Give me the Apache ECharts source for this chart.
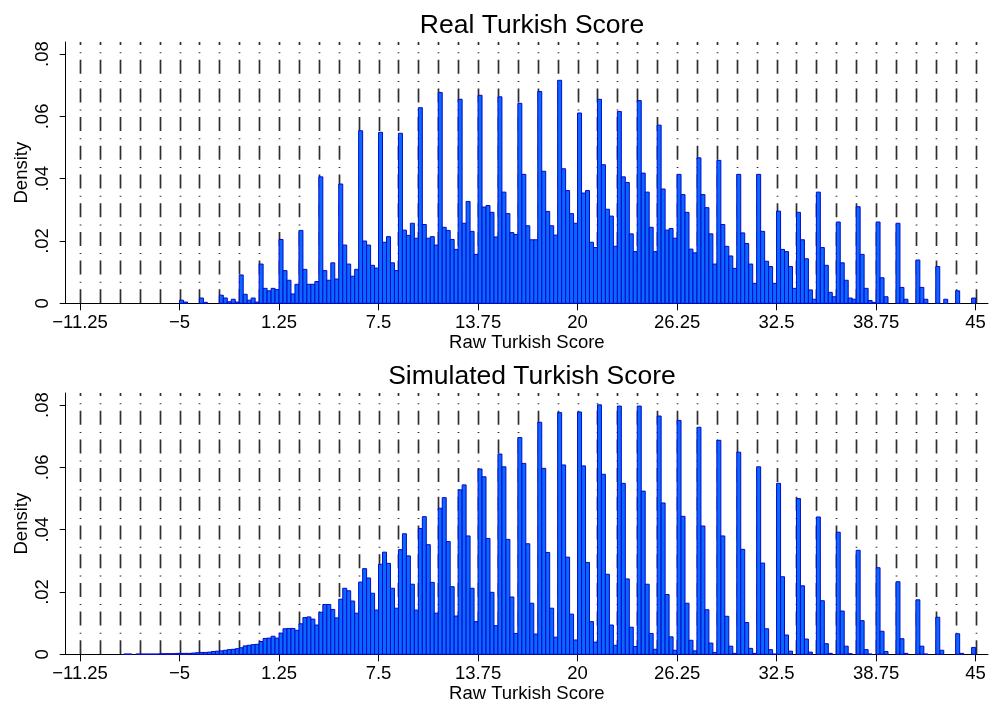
<!DOCTYPE html>
<html>
<head>
<meta charset="utf-8">
<title>Turkish Score</title>
<script src="https://cdn.jsdelivr.net/npm/echarts@6/dist/echarts.min.js"></script>
<style>
  html, body { margin: 0; padding: 0; background: #fff; }
  #chart { width: 992px; height: 710px; }
</style>
</head>
<body>
<div id="chart"></div>
<script>
// density per 0.25-wide bin, first bin starts at realStart / simStart
var binWidth = 0.25
var realStart = -5
var realDensity = [
  0.001, 0.0004, 0, 0, 0,
  0.0017, 0.0003, 0, 0, 0,
  0.0026, 0.0017, 0.0005, 0.0013, 0.0004,
  0.0091, 0.0029, 0.001, 0.0017, 0.0004,
  0.0126, 0.0048, 0.004, 0.0048, 0.0044,
  0.0205, 0.0105, 0.0074, 0.003, 0.0061,
  0.0234, 0.0109, 0.0061, 0.0061, 0.007,
  0.0406, 0.0105, 0.0074, 0.013, 0.0078,
  0.0383, 0.0187, 0.0126, 0.0087, 0.0109,
  0.0554, 0.02, 0.0187, 0.0122, 0.0113,
  0.0549, 0.0196, 0.0214, 0.013, 0.0105,
  0.0546, 0.0235, 0.0218, 0.0257, 0.0209,
  0.0628, 0.0253, 0.0209, 0.0214, 0.0187,
  0.0677, 0.0244, 0.0234, 0.0205, 0.0173,
  0.0655, 0.0257, 0.0327, 0.0231, 0.0157,
  0.0668, 0.0309, 0.0314, 0.0292, 0.0213,
  0.0663, 0.0357, 0.0288, 0.0227, 0.0221,
  0.0642, 0.0414, 0.0249, 0.0204, 0.0204,
  0.068, 0.0424, 0.0295, 0.0249, 0.0219,
  0.0716, 0.0432, 0.0362, 0.0288, 0.0257,
  0.0611, 0.0354, 0.0362, 0.0196, 0.0179,
  0.0655, 0.0445, 0.0302, 0.028, 0.0183,
  0.0616, 0.0406, 0.0388, 0.0223, 0.0166,
  0.0651, 0.0418, 0.0357, 0.0244, 0.0166,
  0.0572, 0.0367, 0.0235, 0.024, 0.0209,
  0.0414, 0.0349, 0.0292, 0.0174, 0.0162,
  0.0467, 0.0349, 0.0307, 0.0223, 0.0126,
  0.0459, 0.0253, 0.0183, 0.0152, 0.0112,
  0.0414, 0.0226, 0.0192, 0.0126, 0.0064,
  0.0414, 0.0231, 0.0135, 0.0118, 0.0064,
  0.0296, 0.0173, 0.0166, 0.0118, 0.0048,
  0.0292, 0.0204, 0.0143, 0.0043, 0.0013,
  0.0357, 0.0179, 0.0122, 0.0035, 0.0021,
  0.0261, 0.013, 0.0074, 0.0017, 0.0013,
  0.031, 0.0157, 0.0048, 0.0009, 0.0003,
  0.0261, 0.0082, 0.0021, 0, 0,
  0.0257, 0.0051, 0.0013, 0, 0,
  0.0139, 0.0051, 0.0013, 0, 0,
  0.0118, 0, 0.0013, 0, 0,
  0.004, 0, 0, 0, 0.0017
]
var simStart = -8.75
var simDensity = [
  0, 0.0001, 0.0001, 0, 0.0001,
  0.0001, 0.0001, 0.0001, 0.0001, 0.0001,
  0.0002, 0.0002, 0.0002, 0.0002, 0.0003,
  0.0003, 0.0003, 0.0003, 0.0004, 0.0005,
  0.0006, 0.0006, 0.0007, 0.0009, 0.001,
  0.0011, 0.0013, 0.0015, 0.0016, 0.0018,
  0.0021, 0.0027, 0.0029, 0.0031, 0.0032,
  0.0041, 0.0051, 0.0052, 0.0058, 0.0052,
  0.0068, 0.0082, 0.0083, 0.0083, 0.0077,
  0.0098, 0.0118, 0.012, 0.0113, 0.0094,
  0.0135, 0.016, 0.016, 0.0144, 0.0117,
  0.0177, 0.0212, 0.0204, 0.0171, 0.0132,
  0.0232, 0.0275, 0.0245, 0.0196, 0.0142,
  0.0289, 0.0328, 0.0292, 0.0212, 0.0148,
  0.0336, 0.0387, 0.0316, 0.0225, 0.0142,
  0.0404, 0.0442, 0.0352, 0.0231, 0.0132,
  0.0469, 0.0503, 0.0362, 0.0217, 0.0123,
  0.0528, 0.0544, 0.038, 0.0212, 0.0105,
  0.0595, 0.057, 0.0372, 0.0199, 0.0092,
  0.0643, 0.0602, 0.0369, 0.0184, 0.0067,
  0.0696, 0.0613, 0.0355, 0.0164, 0.0065,
  0.0745, 0.0597, 0.0327, 0.0148, 0.0055,
  0.0776, 0.0608, 0.0312, 0.0129, 0.0046,
  0.0778, 0.0605, 0.0295, 0.0105, 0.0039,
  0.0801, 0.0578, 0.0257, 0.0094, 0.0029,
  0.0797, 0.0549, 0.0242, 0.0087, 0.0025,
  0.0797, 0.0524, 0.0225, 0.0067, 0.0016,
  0.0765, 0.0486, 0.0192, 0.0056, 0.0013,
  0.0751, 0.0443, 0.0164, 0.0045, 0.0011,
  0.0729, 0.0412, 0.0143, 0.0036, 0.0006,
  0.0687, 0.038, 0.0122, 0.0026, 0.0003,
  0.0649, 0.0337, 0.0102, 0.0019, 0.0003,
  0.0602, 0.0293, 0.0082, 0.0015, 0.0001,
  0.0549, 0.0249, 0.0062, 0.001, 0,
  0.05, 0.022, 0.0049, 0.0007, 0,
  0.0441, 0.0172, 0.0034, 0.0003, 0,
  0.0392, 0.0139, 0.0026, 0.0002, 0,
  0.0334, 0.0108, 0.0015, 0.0001, 0,
  0.0278, 0.0074, 0.0009, 0, 0,
  0.0233, 0.005, 0.0003, 0, 0,
  0.0175, 0.0026, 0.0001, 0, 0,
  0.0119, 0.0013, 0, 0, 0,
  0.0066, 0.0003, 0, 0, 0.0022
]

var xTicks = [-11.25, -5, 1.25, 7.5, 13.75, 20, 26.25, 32.5, 38.75, 45]
var xTickLabels = ['\u221211.25', '\u22125', '1.25', '7.5', '13.75', '20', '26.25', '32.5', '38.75', '45']
var yTicks = [0, 0.02, 0.04, 0.06, 0.08]
var yTickLabels = ['0', '.02', '.04', '.06', '.08']
var titles = ['Real Turkish Score', 'Simulated Turkish Score']

var xMin = -12.15
var xMax = 45.78
var yMax = 0.0839
var font = 'Liberation Sans, Arial, sans-serif'

var xlines = []
for (var v = -11.25; v <= 45.001; v += 1.25) xlines.push([v])

function toBins (start, arr) {
  return arr.map(function (d, i) { return [start + i * binWidth, d] })
}

function renderBar (params, api) {
  var h = api.value(1)
  if (!h) return
  var x0 = api.value(0)
  var p0 = api.coord([x0, h])
  var p1 = api.coord([x0 + binWidth, 0])
  return {
    type: 'rect',
    shape: { x: p0[0], y: p0[1], width: p1[0] - p0[0], height: p1[1] - p0[1] },
    style: { fill: '#0868ff', stroke: '#0808cc', lineWidth: 1 }
  }
}

function renderLine (params, api) {
  var b = api.coord([api.value(0), 0])
  var t = api.coord([api.value(0), yMax])
  var x = Math.round(b[0]) + 0.5
  return {
    type: 'line',
    shape: { x1: x, y1: b[1], x2: x, y2: t[1] },
    style: { stroke: '#2e2e2e', lineWidth: 1.7, lineDash: [14, 6.5, 1, 7.2] },
    z2: 0
  }
}

function xAxisOpt (i) {
  return {
    type: 'value', gridIndex: i, min: xMin, max: xMax,
    name: 'Raw Turkish Score', nameLocation: 'middle', nameGap: 30,
    nameTextStyle: { fontFamily: font, fontSize: 18.5, color: '#000' },
    axisLine: { show: true, onZero: false, lineStyle: { color: '#000', width: 1 } },
    axisTick: { show: true, customValues: xTicks, length: 7, lineStyle: { color: '#000' } },
    axisLabel: {
      customValues: xTicks, margin: 10, fontFamily: font, fontSize: 18.5, color: '#000',
      formatter: function (val) { return xTickLabels[xTicks.indexOf(val)] }
    },
    splitLine: { show: false }
  }
}

function yAxisOpt (i) {
  return {
    type: 'value', gridIndex: i, min: 0, max: yMax,
    name: 'Density', nameLocation: 'middle', nameGap: 34, nameRotate: 90, nameMoveOverlap: false,
    nameTextStyle: { fontFamily: font, fontSize: 18.5, color: '#000' },
    axisLine: { show: true, onZero: false, lineStyle: { color: '#000', width: 1 } },
    axisTick: { show: true, customValues: yTicks, length: 6, lineStyle: { color: '#000' } },
    axisLabel: {
      customValues: yTicks, rotate: 90, margin: 13, fontFamily: font, fontSize: 18.5, color: '#000',
      formatter: function (val) { return yTickLabels[yTicks.indexOf(val)] }
    },
    splitLine: { show: false }
  }
}

var chart = echarts.init(document.getElementById('chart'), null, { renderer: 'canvas' })
chart.setOption({
  animation: false,
  backgroundColor: '#fff',
  title: [
    { text: titles[0], left: 527, top: 7, textAlign: 'center', textStyle: { fontFamily: font, fontSize: 26.5, fontWeight: 'normal', color: '#000' } },
    { text: titles[1], left: 527, top: 358, textAlign: 'center', textStyle: { fontFamily: font, fontSize: 26.5, fontWeight: 'normal', color: '#000' } }
  ],
  grid: [
    { left: 65.7, right: 4, top: 42, height: 261.3 },
    { left: 65.7, right: 4, top: 393, height: 261.3 }
  ],
  xAxis: [xAxisOpt(0), xAxisOpt(1)],
  yAxis: [yAxisOpt(0), yAxisOpt(1)],
  series: [
    { type: 'custom', xAxisIndex: 0, yAxisIndex: 0, z: 1, silent: true, renderItem: renderLine, data: xlines },
    { type: 'custom', xAxisIndex: 1, yAxisIndex: 1, z: 1, silent: true, renderItem: renderLine, data: xlines },
    { type: 'custom', name: 'Real', xAxisIndex: 0, yAxisIndex: 0, z: 2, renderItem: renderBar, encode: { x: 0, y: 1 }, data: toBins(realStart, realDensity) },
    { type: 'custom', name: 'Simulated', xAxisIndex: 1, yAxisIndex: 1, z: 2, renderItem: renderBar, encode: { x: 0, y: 1 }, data: toBins(simStart, simDensity) }
  ]
})
</script>
</body>
</html>
